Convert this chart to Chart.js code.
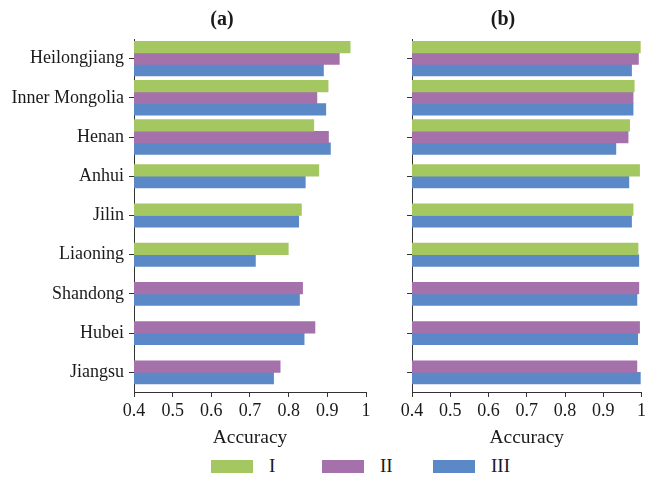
<!DOCTYPE html>
<html>
<head>
<meta charset="utf-8">
<script src="https://cdn.jsdelivr.net/npm/chart.js@4.4.1/dist/chart.umd.min.js"></script>
<style>
  body { margin: 0; background: #fff; width: 646px; height: 477px; position: relative; overflow: hidden; }
  #ca { position: absolute; left: 0; top: 0; }
  #cb { position: absolute; left: 357px; top: 0; }
  .lg { position: absolute; top: 456px; height: 20px; display: flex; align-items: center;
        font-family: "Liberation Serif", serif; font-size: 19px; color: #1a1a1a; }
  .lg span.box { display: inline-block; width: 42px; height: 13px; margin-right: 16px; }
</style>
</head>
<body>
<canvas id="ca" width="444" height="452"></canvas>
<canvas id="cb" width="292" height="452"></canvas>
<script>
// provincias (de arriba a abajo)
const provinces = ['Heilongjiang', 'Inner Mongolia', 'Henan', 'Anhui', 'Jilin',
                   'Liaoning', 'Shandong', 'Hubei', 'Jiangsu'];
const seriesNames = ['I', 'II', 'III'];
const seriesColors = ['#a4c762', '#a571ab', '#5b88c7'];

// panel (a)
const aI   = [0.959, 0.902, 0.865, 0.878, 0.833, 0.799, null, null, null];
const aII  = [0.931, 0.873, 0.903, null, null, null, 0.836, 0.868, 0.778];
const aIII = [0.890, 0.896, 0.908, 0.843, 0.826, 0.714, 0.828, 0.840, 0.761];

// panel (b)
const bI   = [0.997, 0.981, 0.969, 0.995, 0.978, 0.991, null, null, null];
const bII  = [0.992, 0.978, 0.965, null, null, null, 0.993, 0.995, 0.988];
const bIII = [0.974, 0.978, 0.933, 0.967, 0.974, 0.993, 0.988, 0.990, 0.997];

const xMin = 0.4, xMax = 1, xStep = 0.1;
const axisTitle = 'Accuracy';

const serif = '"Liberation Serif", "Times New Roman", serif';
const ink = '#1a1a1a';

function makePanel(id, title, series, yWidth, rightWidth, showLabels) {
  new Chart(document.getElementById(id), {
    type: 'bar',
    data: {
      labels: provinces,
      datasets: series.map((d, i) => ({
        label: seriesNames[i],
        data: d,
        backgroundColor: seriesColors[i],
        borderWidth: 0,
        barThickness: 11.6,
        skipNull: true
      }))
    },
    options: {
      indexAxis: 'y',
      responsive: false,
      animation: false,
      devicePixelRatio: 1,
      layout: { padding: 0 },
      plugins: {
        legend: { display: false },
        tooltip: { enabled: false },
        title: {
          display: true,
          text: title,
          color: ink,
          font: { family: serif, size: 20, weight: 'bold' },
          padding: { top: 8, bottom: 7 }
        }
      },
      scales: {
        x: {
          min: xMin, max: xMax,
          ticks: {
            stepSize: xStep, color: ink, font: { family: serif, size: 18 }, padding: 3,
            callback: v => String(Number(v.toFixed(1)))
          },
          grid: { drawOnChartArea: false, drawTicks: true, tickLength: 5, color: '#333' },
          border: { color: '#333', width: 1 },
          title: {
            display: true, text: axisTitle, color: ink,
            font: { family: serif, size: 19.5 },
            padding: { top: 0, bottom: 2 }
          },
          afterFit: s => { s.height = 60; }
        },
        y: {
          ticks: { display: showLabels, color: ink, font: { family: serif, size: 18 }, padding: 5 },
          grid: { offset: false, drawOnChartArea: false, drawTicks: true, tickLength: 5, color: '#333' },
          border: { color: '#333', width: 1 },
          afterFit: s => { s.width = yWidth; }
        },
        // eje vacío a la derecha, solo reserva espacio
        yr: {
          type: 'category',
          position: 'right',
          display: rightWidth > 0,
          ticks: { display: false },
          grid: { display: false },
          border: { display: false },
          afterFit: s => { s.width = rightWidth; }
        }
      }
    }
  });
}

makePanel('ca', '(a)', [aI, aII, aIII], 134, 78, true);
makePanel('cb', '(b)', [bI, bII, bIII], 55, 0, false);

// leyenda común
seriesNames.forEach((name, i) => {
  const el = document.createElement('div');
  el.className = 'lg';
  el.style.left = (211 + i * 111) + 'px';
  el.innerHTML = '<span class="box" style="background:' + seriesColors[i] + '"></span>' + name;
  document.body.appendChild(el);
});
</script>
</body>
</html>
